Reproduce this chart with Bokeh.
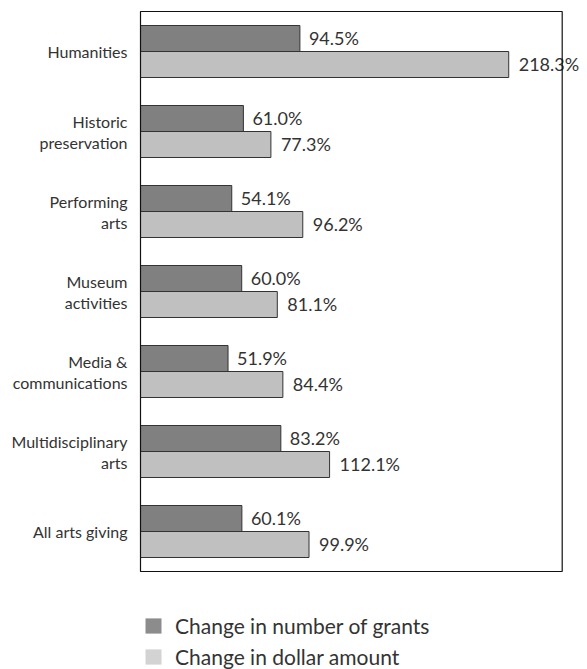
from bokeh.plotting import figure
from bokeh.models import ColumnDataSource, Range1d, LabelSet, Legend, LegendItem, BoxAnnotation
from bokeh.core.properties import value
from bokeh.embed import file_html
from bokeh.resources import INLINE

categories = ["Humanities", "Historic\npreservation", "Performing\narts", "Museum\nactivities",
              "Media &\ncommunications", "Multidisciplinary\narts", "All arts giving"]
grants = [94.5, 61.0, 54.1, 60.0, 51.9, 83.2, 60.1]
dollars = [218.3, 77.3, 96.2, 81.1, 84.4, 112.1, 99.9]
series_names = ["Change in number of grants", "Change in dollar amount"]
AXIS_MAX = 250.0

FONT = value("Lato")
TXT = "#333333"
N = len(categories)
h = 0.325
pos = list(range(N))

src = ColumnDataSource(dict(
    pos=pos,
    ydark=[i - h / 2 for i in pos], ylight=[i + h / 2 for i in pos],
    grants=grants, dollars=dollars,
    glab=[f"{v:.1f}%" for v in grants], dlab=[f"{v:.1f}%" for v in dollars],
))

# category labels split into lines, each right-aligned
LINE = 21
lt, lpos, loff = [], [], []
for i, c in enumerate(categories):
    lines = c.split("\n")
    n = len(lines)
    for j, t in enumerate(lines):
        lt.append(t)
        lpos.append(i)
        loff.append(((n - 1) / 2 - j) * LINE)
lsrc = ColumnDataSource(dict(text=lt, pos=lpos, off=loff, zero=[0] * len(lt)))

p = figure(width=587, height=669, output_backend="svg", toolbar_location=None,
           x_range=Range1d(-83.0, 265.0), y_range=Range1d(N - 0.5 + 1.225, -0.5 - 0.1375),
           min_border=0)
p.xaxis.visible = False
p.yaxis.visible = False
p.grid.visible = False
p.outline_line_color = None
p.background_fill_color = "white"
p.border_fill_color = "white"

r1 = p.hbar(y="ydark", right="grants", left=0, height=h, source=src,
            fill_color="#808080", line_color="#333333", line_width=1)
r2 = p.hbar(y="ylight", right="dollars", left=0, height=h, source=src,
            fill_color="#c0c0c0", line_color="#333333", line_width=1)

p.add_layout(BoxAnnotation(left=0, right=AXIS_MAX, top=-0.5, bottom=N - 0.5,
                           fill_alpha=0, line_color="#111111", line_alpha=1.0, line_width=1.2,
                           level="overlay"))

p.add_layout(LabelSet(x="grants", y="ydark", text="glab", source=src,
                      x_offset=9, y_offset=1, text_baseline="middle", text_font=FONT,
                      text_font_size="18px", text_color=TXT))
p.add_layout(LabelSet(x="dollars", y="ylight", text="dlab", source=src,
                      x_offset=10, y_offset=1, text_baseline="middle", text_font=FONT,
                      text_font_size="18px", text_color=TXT))
p.add_layout(LabelSet(x="zero", y="pos", text="text", source=lsrc, x_offset=-13, y_offset="off",
                      text_align="right", text_baseline="middle", text_font=FONT,
                      text_font_size="16px", text_color=TXT))

nan = float("nan")
lg1 = p.quad(left=[nan], right=[nan], top=[nan], bottom=[nan], fill_color="#8c8c8c", line_color=None)
lg2 = p.quad(left=[nan], right=[nan], top=[nan], bottom=[nan], fill_color="#d3d3d3", line_color=None)

legend = Legend(items=[LegendItem(label=series_names[0], renderers=[lg1]),
                       LegendItem(label=series_names[1], renderers=[lg2])],
                location=(143, 0), orientation="vertical", border_line_color=None,
                background_fill_alpha=0, padding=0, margin=0, spacing=6,
                glyph_width=20, glyph_height=19, label_height=25, label_standoff=12,
                label_text_font="Lato", label_text_font_size="21px", label_text_color=TXT)
p.add_layout(legend)

open("out.html", "w").write(file_html(p, INLINE))
